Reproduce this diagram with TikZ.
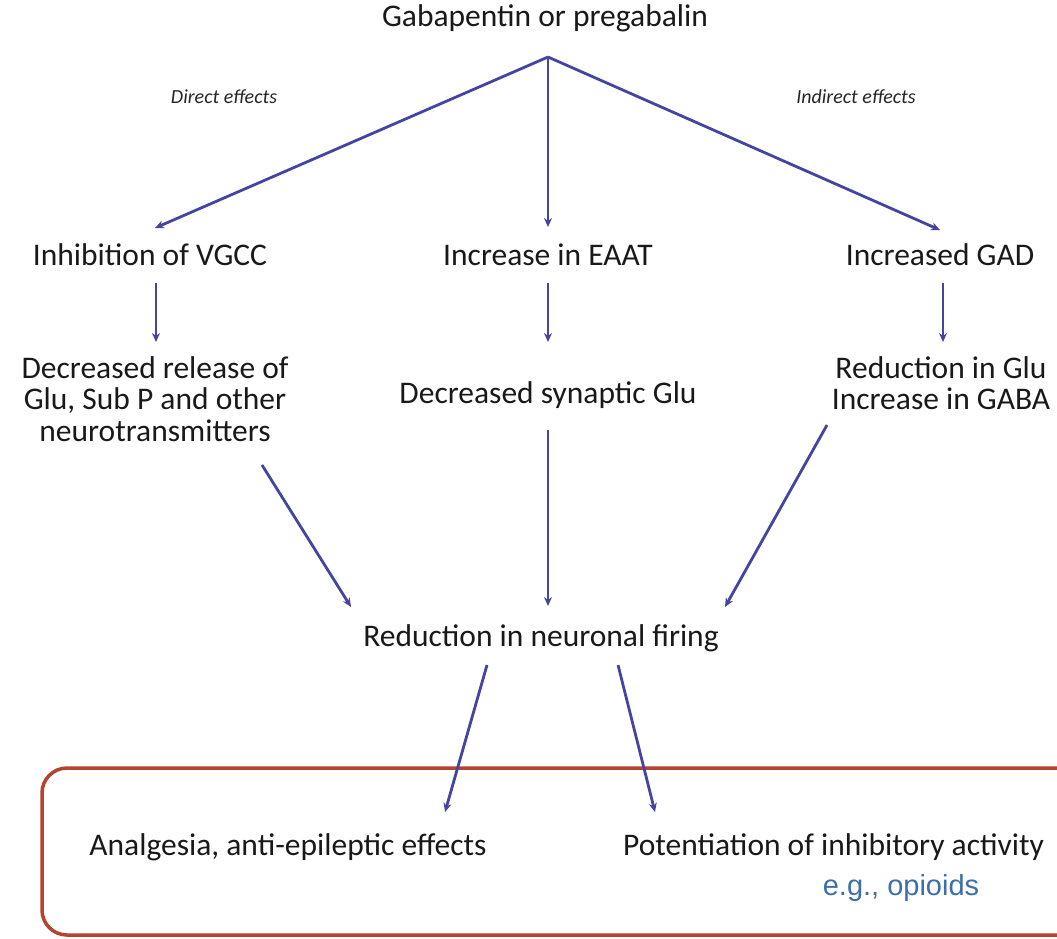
\documentclass[tikz,border=0pt]{standalone}
\usepackage{fontspec}
\setmainfont{Carlito}
\newfontfamily\arialf{Liberation Sans}
\usetikzlibrary{arrows.meta}
\definecolor{arrowc}{HTML}{4545A0}
\definecolor{boxred}{HTML}{B5432F}
\definecolor{egblue}{HTML}{3D6FAA}
\begin{document}
\begin{tikzpicture}[x=1pt,y=-1pt,
  txt/.style={font=\fontsize{31.5}{31.5}\selectfont, text=black!90, align=center, inner sep=0pt},
  lab/.style={font=\fontsize{20}{24}\selectfont\itshape, text=black!85, inner sep=0pt},
  arr/.style={draw=arrowc, line width=2.8pt, -{Stealth[length=9pt,width=8pt]}},
  ]
\useasboundingbox (0,0) rectangle (1057,938);
\fill[white] (0,0) rectangle (1057,938);

\node[txt] (top) at (545,18) {Gabapentin or pregabalin};
\coordinate (apex) at (548,57);
\node[lab] (dir) at (224,97) {Direct effects};
\node[lab] (ind) at (856,97) {Indirect effects};

\node[txt] (vgcc) at (150,255) {Inhibition of VGCC};
\node[txt] (eaat) at (548,255) {Increase in EAAT};
\node[txt] (gad) at (940,255) {Increased GAD};

\node[txt] (rel) at (155,399) {Decreased release of\\Glu, Sub P and other\\neurotransmitters};
\node[txt] (syn) at (548,395) {Decreased synaptic Glu};
\node[txt] (gaba) at (941,383) {Reduction in Glu\\Increase in GABA};

\node[txt] (fire) at (541,638) {Reduction in neuronal firing};

\draw[boxred, line width=3.5pt, rounded corners=25pt] (1090,768) -- (42,768) -- (42,935) -- (1090,935);

\node[txt] (ana) at (288,847) {Analgesia, anti-epileptic effects};
\node[txt, anchor=west] (pot) at (623,847) {Potentiation of inhibitory activity};
\node[font=\arialf\fontsize{29}{32}\selectfont, text=egblue, inner sep=0pt] (eg) at (901,888) {e.g., opioids};

\draw[arr] (apex) -- (155,228);
\draw[arr] (apex) -- (548,227);
\draw[arr] (apex) -- (940,230);

\draw[arr] (156,283) -- (156,342);
\draw[arr] (548,283) -- (548,342);
\draw[arr] (943,283) -- (943,342);

\draw[arr] (262,465) -- (351,607);
\draw[arr] (548,430) -- (548,606);
\draw[arr] (827,425) -- (725,607);

\draw[arr] (487,665) -- (445,812);
\draw[arr] (618,665) -- (655,812);
\end{tikzpicture}
\end{document}
